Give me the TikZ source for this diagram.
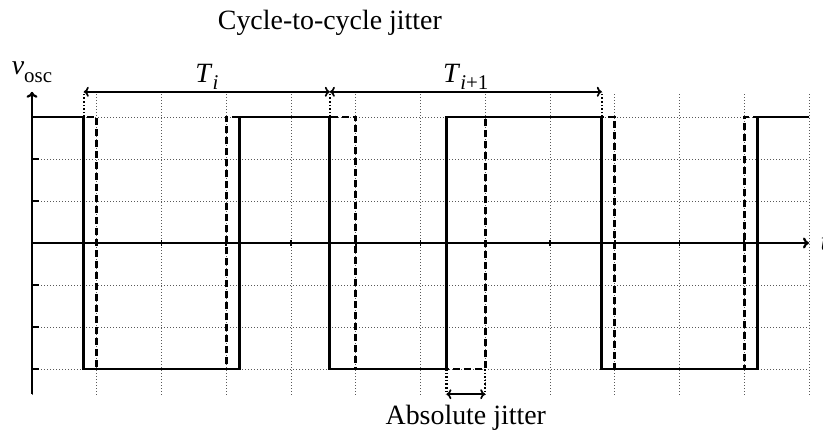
\documentclass[tikz,border=0pt]{standalone}
\usepackage{fontspec}
\setmainfont{Liberation Serif}
\usetikzlibrary{arrows.meta}
\newcommand{\subsc}[1]{\raisebox{-0.28em}{\fontsize{21}{22}\selectfont #1}}
\begin{document}
\begin{tikzpicture}[x=64.75bp,y=42bp,
  font=\fontsize{28}{32}\selectfont,
  gridline/.style={black!65, line width=0.7bp, dash pattern=on 0.7bp off 2.3bp},
  sigline/.style={line width=2.8bp, line join=miter},
  idealline/.style={line width=2.8bp, dash pattern=on 7bp off 4bp},
  guideline/.style={line width=2.2bp, dash pattern=on 1.6bp off 2bp},
  axisline/.style={line width=2.2bp, -{To[length=6bp,width=11bp]}},
  dimline/.style={line width=1.7bp, {To[length=5bp,width=10bp]}-{To[length=5bp,width=10bp]}},
  ticks/.style={line width=1.7bp}]
\useasboundingbox (-0.4942,-4.5238) rectangle (12.2162,5.7857);
% grid
\draw[gridline, step={(1,1)}] (0,-3.6) grid (12,3.6);
% ticks
\foreach \y in {-3,...,3} \draw[ticks] (0,\y) -- ++(7bp,0);
\foreach \x in {1,...,11} \draw[ticks] (\x,0) ++(0,-3bp) -- ++(0,6bp);
% axes
\coordinate (O) at (0,0);
\coordinate (ybot) at (0,-3.6);
\coordinate (ytop) at (0,3.6);
\coordinate (xend) at (12,0);
\draw[axisline] (ybot) -- (ytop);
\draw[axisline] (O) -- (xend);
% ideal (dashed) signal
\draw[idealline] (0,3) -- (1,3) -- (1,-3) -- (3,-3) -- (3,3) -- (5,3) -- (5,-3) -- (7,-3) -- (7,3) -- (9,3) -- (9,-3) -- (11,-3) -- (11,3) -- (12,3);
% jittered (solid) signal
\draw[sigline] (0,3) -- (0.8,3) -- (0.8,-3) -- (3.2,-3) -- (3.2,3) -- (4.6,3) -- (4.6,-3) -- (6.4,-3) -- (6.4,3) -- (8.8,3) -- (8.8,-3) -- (11.2,-3) -- (11.2,3) -- (12,3);
% period markers
\coordinate (e0) at (0.8,3);   \coordinate (a0) at (0.8,3.6);
\coordinate (e1) at (4.6,3);   \coordinate (a1) at (4.6,3.6);
\coordinate (e2) at (8.8,3);   \coordinate (a2) at (8.8,3.6);
\draw[guideline] (e0) -- (a0);
\draw[guideline] (e1) -- (a1);
\draw[guideline] (e2) -- (a2);
\draw[dimline] (a0) -- (a1);
\draw[dimline] (a1) -- (a2);
% absolute jitter markers
\coordinate (j0) at (6.4,-3); \coordinate (b0) at (6.4,-3.6);
\coordinate (j1) at (7,-3);   \coordinate (b1) at (7,-3.6);
\draw[guideline] (j0) -- (b0);
\draw[guideline] (j1) -- (b1);
\draw[dimline] (b0) -- (b1);
% labels
\node[anchor=base] (cyc) at (4.6,5.095) {Cycle-to-cycle jitter};
\node[anchor=base] (Ti) at (2.7,3.83) {\textit{T}\subsc{\itshape i}};
\node[anchor=base] (Ti1) at (6.7,3.83) {\textit{T}\subsc{\textit{i}+1}};
\node[anchor=base] (vosc) at (0,4.0) {\textit{v}\subsc{osc}};
\node[anchor=west, xshift=8bp] (tlab) at (xend) {\textit{t}};
\node[anchor=base] (absj) at (6.7,-4.333) {Absolute jitter};
\end{tikzpicture}
\end{document}
